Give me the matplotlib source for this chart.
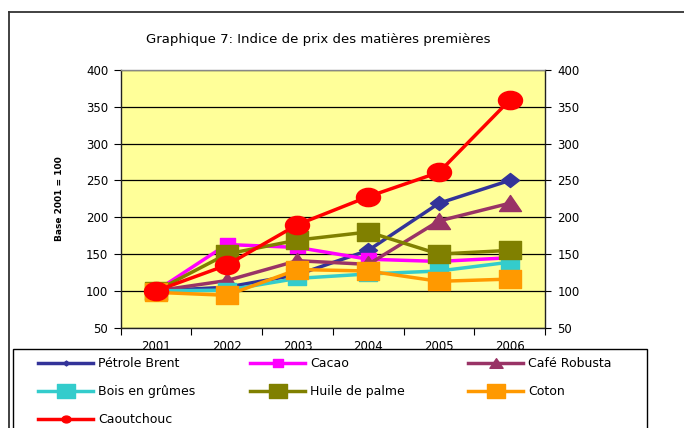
import matplotlib
matplotlib.use("Agg")
import matplotlib.pyplot as plt
from matplotlib.lines import Line2D
from matplotlib.patches import Rectangle
from matplotlib.path import Path
from matplotlib.transforms import Affine2D

plt.rcParams['font.family'] = ['DejaVu Sans']

years = ['2001', '2002', '2003', '2004', '2005', '2006']
petrole = [100, 105, 122, 155, 219, 250]
cacao = [100, 163, 159, 143, 140, 145]
cafe = [100, 114, 141, 136, 195, 219]
bois = [100, 101, 117, 123, 127, 139]
huile = [100, 150, 169, 180, 150, 155]
coton = [98, 94, 129, 127, 113, 116]
caoutchouc = [100, 135, 190, 228, 261, 359]

labels = ['Pétrole Brent', 'Cacao', 'Café Robusta', 'Bois en grûmes',
          'Huile de palme', 'Coton', 'Caoutchouc']
series = [petrole, cacao, cafe, bois, huile, coton, caoutchouc]
colors = ['#333399', '#FF00FF', '#993366', '#33CCCC', '#808000', '#FF9900', '#FF0000']

# slightly wide marker shapes (the original chart is horizontally stretched)
rect = Path([(-1, -0.82), (1, -0.82), (1, 0.82), (-1, 0.82), (-1, -0.82)],
            [Path.MOVETO, Path.LINETO, Path.LINETO, Path.LINETO, Path.CLOSEPOLY])
diam = Path([(0, -0.78), (1, 0), (0, 0.78), (-1, 0), (0, -0.78)],
            [Path.MOVETO, Path.LINETO, Path.LINETO, Path.LINETO, Path.CLOSEPOLY])
tri = Path([(-1, -0.73), (1, -0.73), (0, 0.73), (-1, -0.73)],
           [Path.MOVETO, Path.LINETO, Path.LINETO, Path.CLOSEPOLY])
ell = Path.unit_circle().transformed(Affine2D().scale(1, 0.76))

markers = [diam, rect, tri, rect, rect, rect, ell]
msizes = [13, 10.8, 15.8, 13, 15.8, 15.8, 17.3]
leg_msizes = [4.5, 7, 9.5, 12.7, 12.5, 12.5, 6.5]

W, H = 684, 428
fig = plt.figure(figsize=(W / 100, H / 100), dpi=100)

ax = fig.add_axes([120.7 / W, 1 - 327.7 / H, (545 - 120.7) / W, (327.7 - 70) / H])
ax.set_facecolor('#FFFF99')
x = list(range(1, len(years) + 1))
for s, lab, c, m, ms in zip(series, labels, colors, markers, msizes):
    ax.plot(x, s, color=c, lw=2.5, marker=m, ms=ms, mfc=c, mec=c, label=lab)

ax.set_ylim(50, 400)
ax.set_xlim(0.5, len(years) + 0.5)
yt = list(range(50, 401, 50))
ax.set_yticks(yt)
ax.set_yticklabels([str(v) for v in yt], fontsize=8.5)
ax.yaxis.grid(True, color='black', lw=0.9)
ax.set_axisbelow(True)
ax.set_xticks([i + 0.5 for i in range(0, len(years) + 1)])
ax.set_xticklabels([])
ax.set_xticks(x, minor=True)
ax.set_xticklabels(years, minor=True, fontsize=8.5)
ax.tick_params(axis='x', which='minor', length=0, pad=9)
ax.tick_params(axis='x', which='major', length=5, direction='out', width=0.8)
ax.tick_params(axis='y', length=5, direction='out', width=0.8, pad=4)
for sp in ax.spines.values():
    sp.set_color('#222222')
    sp.set_linewidth(1.0)
ax.spines['top'].set_color('#888888')

ax2 = ax.twinx()
ax2.set_ylim(50, 400)
ax2.set_yticks(yt)
ax2.set_yticklabels([str(v) for v in yt], fontsize=8.5)
ax2.tick_params(axis='y', length=4, direction='out', width=0.8, pad=5)
for sp in ax2.spines.values():
    sp.set_visible(False)

ax.set_ylabel('Base 2001 = 100', fontsize=6.5, fontweight='bold', labelpad=16)

fig.text(318 / W, 1 - 40 / H, 'Graphique 7: Indice de prix des matières premières',
         ha='center', va='center', fontsize=9.5)

# outer frame
fig.add_artist(Line2D([9 / W, 9 / W], [0, 1 - 12 / H], color='#333333', lw=1.3,
                      transform=fig.transFigure))
fig.add_artist(Line2D([9 / W, 1], [1 - 12 / H, 1 - 12 / H], color='#333333', lw=1.3,
                      transform=fig.transFigure))

# legend box
fig.add_artist(Rectangle((13 / W, -0.05), (647 - 13) / W, 1 - 349 / H + 0.05,
                         transform=fig.transFigure, fill=True, facecolor='white',
                         edgecolor='black', lw=1.0, zorder=5))

proxies = [Line2D([], [], color=c, lw=2.5, marker=m, ms=ms, mfc=c, mec=c)
           for c, m, ms in zip(colors, markers, leg_msizes)]

cols = [[0, 3, 6], [1, 4], [2, 5]]
col_x = [33, 245, 463]
for cx, idx in zip(col_x, cols):
    leg = fig.legend([proxies[i] for i in idx], [labels[i] for i in idx],
                     loc='upper left', bbox_to_anchor=(cx / W, 1 - 352 / H),
                     frameon=False, fontsize=9, handlelength=4.4,
                     handletextpad=0.4, labelspacing=1.2, borderaxespad=0)
    leg.set_zorder(6)

fig.savefig('out.png', dpi=100)
